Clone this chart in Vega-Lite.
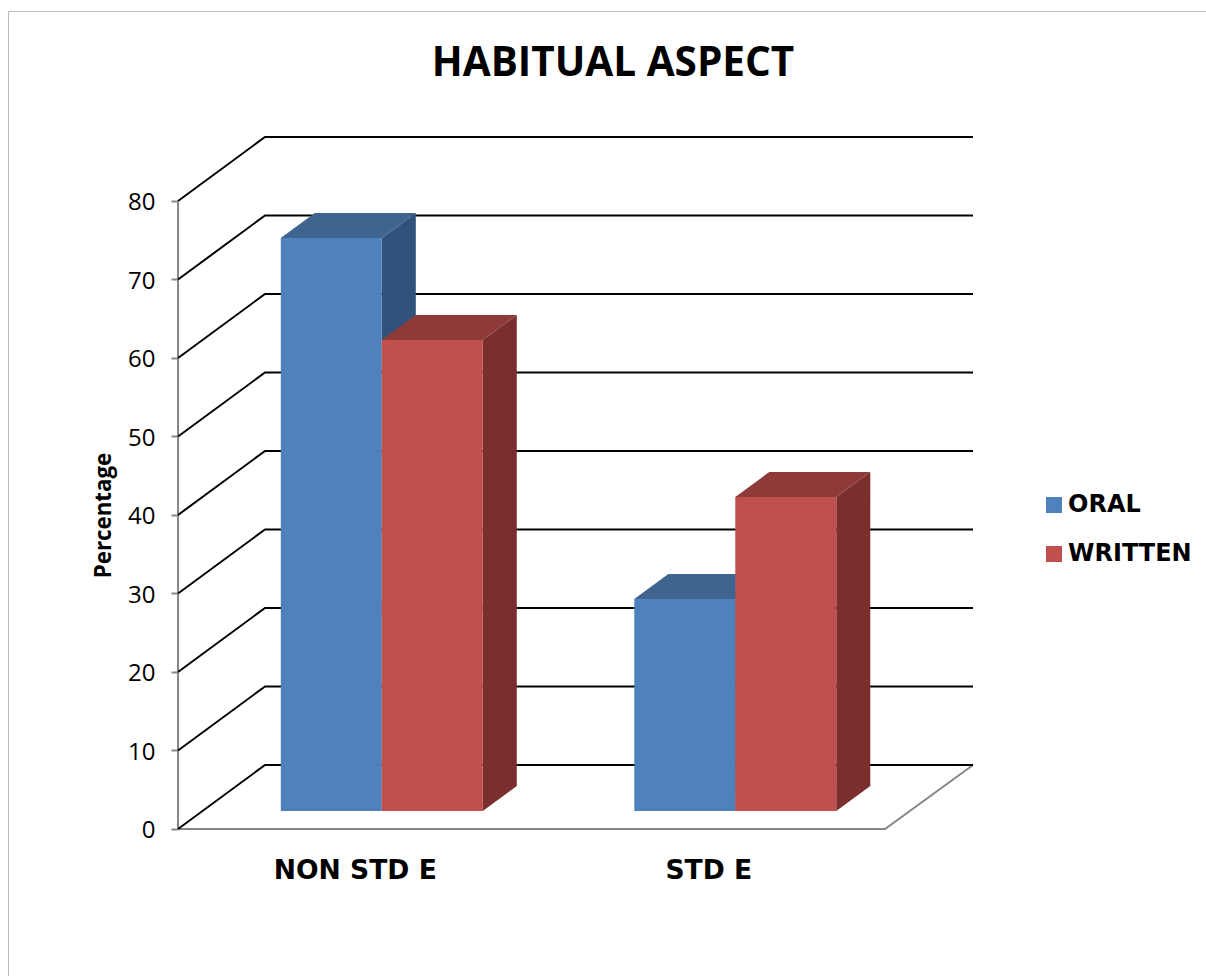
{
"$schema":"https://vega.github.io/schema/vega-lite/v6.json",
"width":1198,"height":965,
"autosize":{"type":"none"},
"padding":{"left":8,"top":11,"right":0,"bottom":0},
"background":"white",
"config":{"view":{"stroke":"#bdbdbd","strokeWidth":1}},
"title":{"text":"HABITUAL ASPECT","font":"Open Sans","fontSize":40.5,"fontWeight":"bold","color":"#000000","anchor":"middle","frame":"group","dx":6,"dy":39,"offset":-66,"baseline":"alphabetic"},
"datasets":{
"grid":[
{"tick":0,"seq":1,"x":0,"y":0},{"tick":0,"seq":2,"x":0.2461,"y":8.15},{"tick":0,"seq":3,"x":2.2489,"y":8.15},
{"tick":10,"seq":1,"x":0,"y":10},{"tick":10,"seq":2,"x":0.2461,"y":18.15},{"tick":10,"seq":3,"x":2.2489,"y":18.15},
{"tick":20,"seq":1,"x":0,"y":20},{"tick":20,"seq":2,"x":0.2461,"y":28.15},{"tick":20,"seq":3,"x":2.2489,"y":28.15},
{"tick":30,"seq":1,"x":0,"y":30},{"tick":30,"seq":2,"x":0.2461,"y":38.15},{"tick":30,"seq":3,"x":2.2489,"y":38.15},
{"tick":40,"seq":1,"x":0,"y":40},{"tick":40,"seq":2,"x":0.2461,"y":48.15},{"tick":40,"seq":3,"x":2.2489,"y":48.15},
{"tick":50,"seq":1,"x":0,"y":50},{"tick":50,"seq":2,"x":0.2461,"y":58.15},{"tick":50,"seq":3,"x":2.2489,"y":58.15},
{"tick":60,"seq":1,"x":0,"y":60},{"tick":60,"seq":2,"x":0.2461,"y":68.15},{"tick":60,"seq":3,"x":2.2489,"y":68.15},
{"tick":70,"seq":1,"x":0,"y":70},{"tick":70,"seq":2,"x":0.2461,"y":78.15},{"tick":70,"seq":3,"x":2.2489,"y":78.15},
{"tick":80,"seq":1,"x":0,"y":80},{"tick":80,"seq":2,"x":0.2461,"y":88.15},{"tick":80,"seq":3,"x":2.2489,"y":88.15}
],
"frame":[
{"seq":1,"x":0,"y":80},{"seq":2,"x":0,"y":0},{"seq":3,"x":2,"y":0},{"seq":4,"x":2.2489,"y":8.15}
],
"faces":[
{"bar":"a","face":"ORAL side","x":0.5764,"y":73,"y2":0},{"bar":"a","face":"ORAL side","x":0.6726,"y":76.18,"y2":3.18},
{"bar":"a","face":"ORAL top","x":0.2907,"y":73,"y2":73},{"bar":"a","face":"ORAL top","x":0.3869,"y":76.18,"y2":73},{"bar":"a","face":"ORAL top","x":0.5764,"y":76.18,"y2":73},{"bar":"a","face":"ORAL top","x":0.6726,"y":76.18,"y2":76.18},
{"bar":"b","face":"WRITTEN side","x":0.8621,"y":60,"y2":0},{"bar":"b","face":"WRITTEN side","x":0.9583,"y":63.18,"y2":3.18},
{"bar":"b","face":"WRITTEN top","x":0.5764,"y":60,"y2":60},{"bar":"b","face":"WRITTEN top","x":0.6726,"y":63.18,"y2":60},{"bar":"b","face":"WRITTEN top","x":0.8621,"y":63.18,"y2":60},{"bar":"b","face":"WRITTEN top","x":0.9583,"y":63.18,"y2":63.18},
{"bar":"c","face":"ORAL side","x":1.5764,"y":27,"y2":0},{"bar":"c","face":"ORAL side","x":1.6726,"y":30.18,"y2":3.18},
{"bar":"c","face":"ORAL top","x":1.2907,"y":27,"y2":27},{"bar":"c","face":"ORAL top","x":1.3869,"y":30.18,"y2":27},{"bar":"c","face":"ORAL top","x":1.5764,"y":30.18,"y2":27},{"bar":"c","face":"ORAL top","x":1.6726,"y":30.18,"y2":30.18},
{"bar":"d","face":"WRITTEN side","x":1.8621,"y":40,"y2":0},{"bar":"d","face":"WRITTEN side","x":1.9583,"y":43.18,"y2":3.18},
{"bar":"d","face":"WRITTEN top","x":1.5764,"y":40,"y2":40},{"bar":"d","face":"WRITTEN top","x":1.6726,"y":43.18,"y2":40},{"bar":"d","face":"WRITTEN top","x":1.8621,"y":43.18,"y2":40},{"bar":"d","face":"WRITTEN top","x":1.9583,"y":43.18,"y2":43.18}
],
"bars":[
{"category":"NON STD E","series":"ORAL","value":73,"start":0.2907,"end":0.5764},
{"category":"NON STD E","series":"WRITTEN","value":60,"start":0.5764,"end":0.8621},
{"category":"STD E","series":"ORAL","value":27,"start":1.2907,"end":1.5764},
{"category":"STD E","series":"WRITTEN","value":40,"start":1.5764,"end":1.8621}
]
},
"layer":[
{"data":{"name":"frame"},
 "mark":{"type":"line","stroke":"#868686","strokeWidth":2},
 "encoding":{
  "x":{"field":"x","type":"quantitative","scale":{"domain":[-0.481,2.908],"nice":false,"zero":false},
   "axis":{"values":[0.5,1.5],"labelExpr":"datum.value < 1 ? 'NON STD E' : 'STD E'","title":null,"ticks":false,"domain":false,"grid":false,"offset":-147,"labelFont":"DejaVu Sans","labelFontWeight":"bold","labelFontSize":26.6,"labelColor":"#000000","labelPadding":28}},
  "y":{"field":"y","type":"quantitative","scale":{"domain":[-18.73,104.2],"nice":false,"zero":false},
   "axis":{"values":[0,10,20,30,40,50,60,70,80],"title":"Percentage","titleFont":"Open Sans","titleFontWeight":"bold","titleFontSize":22.3,"titleColor":"#000000","titleX":-63,"titleY":504,"domain":false,"grid":false,"offset":-170,"tickSize":7,"tickColor":"#868686","tickWidth":2,"labelFont":"Open Sans","labelFontSize":24,"labelColor":"#000000","labelPadding":16,"labelOffset":2}},
  "order":{"field":"seq","type":"quantitative"}
 }},
{"data":{"name":"grid"},
 "mark":{"type":"line","stroke":"#000000","strokeWidth":2},
 "encoding":{
  "x":{"field":"x","type":"quantitative","scale":{"domain":[-0.481,2.908],"nice":false,"zero":false},"axis":null},
  "y":{"field":"y","type":"quantitative","scale":{"domain":[-18.73,104.2],"nice":false,"zero":false},"axis":null},
  "detail":{"field":"tick"},
  "order":{"field":"seq","type":"quantitative"}
 }},
{"data":{"name":"faces"},
 "mark":{"type":"area","yOffset":-18,"y2Offset":-18,"opacity":1},
 "encoding":{
  "x":{"field":"x","type":"quantitative","scale":{"domain":[-0.481,2.908],"nice":false,"zero":false},"axis":null},
  "y":{"field":"y","type":"quantitative","scale":{"domain":[-18.73,104.2],"nice":false,"zero":false},"axis":null},
  "y2":{"field":"y2"},
  "detail":{"field":"bar"},
  "color":{"field":"face","type":"nominal","legend":null,"scale":{"domain":["ORAL side","ORAL top","WRITTEN side","WRITTEN top"],"range":["#31527A","#3F6490","#7A2F2E","#8E3A38"]}}
 }},
{"data":{"name":"bars"},
 "mark":{"type":"rect","yOffset":-18,"y2Offset":-18,"opacity":1},
 "encoding":{
  "x":{"field":"start","type":"quantitative","scale":{"domain":[-0.481,2.908],"nice":false,"zero":false},"axis":null},
  "x2":{"field":"end"},
  "y":{"field":"value","type":"quantitative","scale":{"domain":[-18.73,104.2],"nice":false,"zero":false},"axis":null},
  "y2":{"datum":0},
  "color":{"field":"series","type":"nominal","scale":{"domain":["ORAL","WRITTEN"],"range":["#4F81BD","#C0504D"]},
   "legend":{"orient":"none","legendX":1034,"legendY":482,"title":null,"padding":0,"symbolType":"square","symbolSize":256,"symbolStrokeWidth":0,"labelFont":"DejaVu Sans","labelFontWeight":"bold","labelFontSize":24,"labelColor":"#000000","labelOffset":2,"rowPadding":25,"labelLimit":200}}
 }}
],
"resolve":{"scale":{"color":"independent"},"axis":{"x":"independent","y":"independent"}}
}
